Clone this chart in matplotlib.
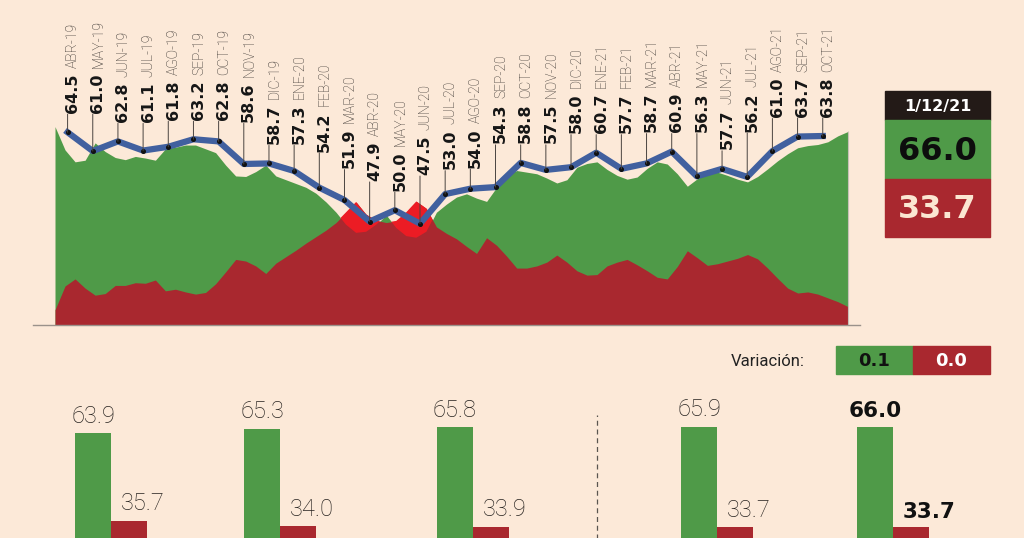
import matplotlib.pyplot as plt
import numpy as np
from matplotlib.patches import Rectangle

# monthly approval (line with labels)
months = ['ABR-19', 'MAY-19', 'JUN-19', 'JUL-19', 'AGO-19', 'SEP-19', 'OCT-19',
          'NOV-19', 'DIC-19', 'ENE-20', 'FEB-20', 'MAR-20', 'ABR-20', 'MAY-20',
          'JUN-20', 'JUL-20', 'AGO-20', 'SEP-20', 'OCT-20', 'NOV-20', 'DIC-20',
          'ENE-21', 'FEB-21', 'MAR-21', 'ABR-21', 'MAY-21', 'JUN-21', 'JUL-21',
          'AGO-21', 'SEP-21', 'OCT-21']
approval_monthly = [64.5, 61.0, 62.8, 61.1, 61.8, 63.2, 62.8, 58.6, 58.7, 57.3,
                    54.2, 51.9, 47.9, 50.0, 47.5, 53.0, 54.0, 54.3, 58.8, 57.5,
                    58.0, 60.7, 57.7, 58.7, 60.9, 56.3, 57.7, 56.2, 61.0, 63.7, 63.8]

# daily tracking, sampled roughly every 10 days up to 1/12/21
approve_daily = [66.9, 62.6, 60.4, 60.7, 63.9, 62.3, 61.2, 60.8, 61.4, 61.1,
                 60.7, 62.8, 63.1, 63.5, 63.5, 62.8, 62.1, 59.8, 57.8, 57.7,
                 58.6, 59.8, 57.8, 57.1, 56.4, 55.7, 54.6, 53.0, 51.1, 48.8,
                 47.3, 47.5, 48.8, 50.6, 48.2, 46.7, 46.4, 47.5, 51.1, 52.6,
                 53.9, 54.5, 53.7, 53.1, 55.7, 57.9, 58.8, 58.5, 58.2, 57.4,
                 56.5, 57.1, 59.4, 60.1, 60.4, 59.0, 57.9, 57.2, 57.6, 59.2,
                 60.4, 60.0, 58.2, 55.9, 57.3, 58.3, 58.5, 57.9, 57.2, 56.7,
                 57.7, 59.1, 60.6, 61.9, 63.0, 63.4, 63.6, 64.1, 65.2, 66.0]
disapprove_daily = [33.1, 37.5, 38.8, 37.1, 35.8, 36.1, 37.6, 37.6, 38.1, 38.0,
                    38.6, 36.6, 36.9, 36.4, 36.0, 36.3, 37.9, 40.1, 42.4, 42.1,
                    41.2, 39.8, 41.7, 42.9, 44.1, 45.4, 46.6, 47.8, 49.2, 51.1,
                    53.0, 50.7, 49.6, 49.2, 49.5, 51.1, 53.1, 51.8, 48.4, 47.2,
                    46.2, 44.8, 43.5, 46.4, 45.0, 43.0, 40.8, 40.8, 41.2, 41.9,
                    43.2, 41.9, 40.3, 39.5, 39.6, 41.2, 41.9, 42.4, 41.4, 40.3,
                    39.1, 38.8, 41.1, 44.0, 42.7, 41.3, 41.6, 42.1, 42.6, 43.3,
                    42.5, 40.8, 38.9, 37.1, 36.2, 36.4, 36.0, 35.3, 34.6, 33.7]

# comparison bars at the bottom
bar_approve = [63.9, 65.3, 65.8, 65.9, 66.0]
bar_disapprove = [35.7, 34.0, 33.9, 33.7, 33.7]
last_date = '1/12/21'

BG = '#fce9d8'
GREEN = '#4f9a48'
RED = '#a9282f'
BRIGHT = '#ec1c24'
BLUE = '#41609f'
DARK = '#231a17'
CREAM = '#fbe6d2'

BOLD = ['DejaVu Sans']
LIGHT = ['Roboto', 'DejaVu Sans']

fig = plt.figure(figsize=(10.24, 5.38), dpi=100, facecolor=BG)

# ---- top area chart ----
ax = fig.add_axes([33 / 1024, 1 - 325 / 538, 827 / 1024, 325 / 538])
ax.set_facecolor('none')
a = np.array(approve_daily)
d = np.array(disapprove_daily)
xd = np.linspace(-0.5, 31.0, len(a))
ax.fill_between(xd, 0, a, color=GREEN, lw=0)
ax.fill_between(xd, 0, d, color=RED, lw=0)
ax.fill_between(xd, a, d, where=d > a, interpolate=True, color=BRIGHT, lw=0)
ax.vlines(xd[-1], 0, a[-1], color='#c9c0b8', lw=0.8)
ax.set_xlim(-1.374, 31.48)
ax.set_ylim(30.3, 90.26)
for s in ['top', 'left', 'right']:
    ax.spines[s].set_visible(False)
ax.spines['bottom'].set_color('#9a928b')
ax.spines['bottom'].set_linewidth(1)
ax.set_xticks([])
ax.set_yticks([])

# monthly line on its own scale
ax2 = ax.twinx()
ax2.set_ylim(28.65, 89.1)
ax2.axis('off')
xm = np.arange(len(approval_monthly))
ax2.plot(xm, approval_monthly, color=BLUE, lw=4.5, solid_joinstyle='round', zorder=3)
ax2.plot(xm, approval_monthly, 'o', ms=2.6, color='#111111', zorder=4)

# labels sit higher inside dips so they clear the neighbours
ppu = ax2.bbox.height / (89.1 - 28.65) * 72 / fig.dpi
for i, (m, v) in enumerate(zip(months, approval_monthly)):
    nb = approval_monthly[max(i - 1, 0):i + 2]
    lift = (max(nb) - v) * ppu + 14
    ax2.annotate('', xy=(i, v), xytext=(0, lift - 1), textcoords='offset points',
                 arrowprops=dict(arrowstyle='-', color='#4a4440', lw=0.7,
                                 shrinkA=0, shrinkB=0), zorder=5)
    vt = ax2.annotate(f'{v:.1f}', xy=(i, v), xytext=(9, lift), textcoords='offset points',
                      rotation=90, rotation_mode='anchor', ha='left', va='bottom',
                      fontsize=11.5, fontweight='bold', family=BOLD, color='#161616')
    ax2.annotate(m, xy=(1, 1), xycoords=vt, xytext=(0, 4), textcoords='offset points',
                 rotation=90, rotation_mode='anchor', ha='left', va='bottom',
                 fontsize=10, fontweight='light', family=LIGHT, color='#2b2724')

# ---- bottom bars ----
axb = fig.add_axes([0, (538 - 632) / 538, 1, (632 - 380) / 538])
axb.set_facecolor('none')
axb.set_xlim(0, 1024)
axb.set_ylim(0, 252 / 3.11)
axb.axis('off')
slots = [111, 280, 473, 717, 893]
bw = 36
for i, (g, r) in enumerate(zip(bar_approve, bar_disapprove)):
    c = slots[i]
    axb.bar(c - bw / 2, g, width=bw, color=GREEN)
    axb.bar(c + bw / 2, r, width=bw, color=RED)
    last = i == len(bar_approve) - 1
    kw = dict(fontsize=15.5, fontweight='bold', family=BOLD, color='#111111') if last \
        else dict(fontsize=17, fontweight='light', family=LIGHT, color='#26221f')
    axb.annotate(f'{g:.1f}', xy=(c - bw / 2, g), xytext=(0, 4), textcoords='offset points',
                 ha='center', va='bottom', **kw)
    axb.annotate(f'{r:.1f}', xy=(c + 10, r), xytext=(0, 4),
                 textcoords='offset points', ha='left', va='bottom', **kw)
axb.plot([597, 597], [0, 69.8], ls=(0, (4, 3)), color='#5a5550', lw=0.9)

# ---- overlay boxes ----
axo = fig.add_axes([0, 0, 1, 1])
axo.set_xlim(0, 1024)
axo.set_ylim(538, 0)
axo.axis('off')
axo.add_patch(Rectangle((885, 91), 105, 29, color=DARK))
axo.add_patch(Rectangle((885, 120), 105, 59, color=GREEN))
axo.add_patch(Rectangle((885, 179), 105, 58, color=RED))
axo.text(937.5, 106, last_date, ha='center', va='center', fontsize=11.5,
         fontweight='bold', family=BOLD, color='white')
axo.text(937.5, 151, f'{bar_approve[-1]:.1f}', ha='center', va='center', fontsize=23,
         fontweight='bold', family=BOLD, color='#0d0d0d')
axo.text(937.5, 209, f'{bar_disapprove[-1]:.1f}', ha='center', va='center', fontsize=23,
         fontweight='bold', family=BOLD, color=CREAM)

var_g = bar_approve[-1] - bar_approve[-2]
var_r = bar_disapprove[-1] - bar_disapprove[-2]
axo.text(805, 361, 'Variación:', ha='right', va='center', fontsize=12,
         fontweight='normal', family=LIGHT, color='#222222')
axo.add_patch(Rectangle((836, 346), 77, 28, color=GREEN))
axo.add_patch(Rectangle((913, 346), 77, 28, color=RED))
axo.text(874.5, 361, f'{var_g:.1f}', ha='center', va='center', fontsize=13,
         fontweight='bold', family=BOLD, color='#111111')
axo.text(951.5, 361, f'{abs(var_r):.1f}', ha='center', va='center', fontsize=13,
         fontweight='bold', family=BOLD, color='white')

fig.savefig('out.png', dpi=100, facecolor=BG)
